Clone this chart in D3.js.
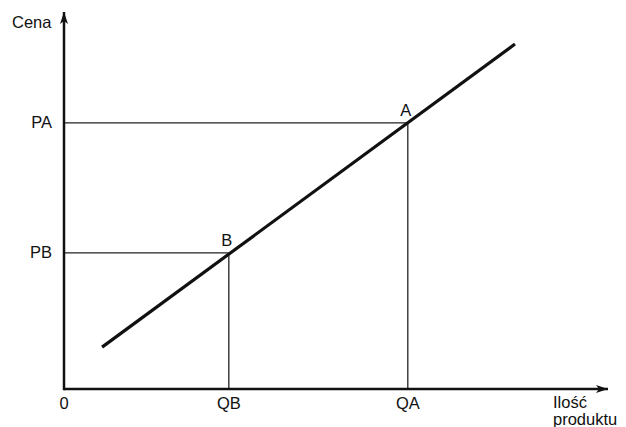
<!DOCTYPE html>
<html><head><meta charset="utf-8">
<script src="https://cdn.jsdelivr.net/npm/d3@7"></script>
<style>body{margin:0;background:#fff}svg text{font-family:"Liberation Sans",Arial,sans-serif;font-size:16.5px;fill:#111}</style>
</head><body>
<svg id="c" width="626" height="427"></svg>
<script>
// data (abstract units)
const xTicks = [{label:"0", v:0},{label:"QB", v:3.03},{label:"QA", v:6.32}];
const yTicks = [{label:"PB", v:3.61},{label:"PA", v:7.06}];
const supply = [{q:0.70, p:1.11},{q:8.29, p:9.15}];
const points = [{name:"A", q:6.32, p:7.06},{name:"B", q:3.03, p:3.61}];
const axisLabels = {x:["Ilość","produktu"], y:"Cena"};

const svg = d3.select("#c");
const x = d3.scaleLinear().domain([0,10]).range([64,608]);
const y = d3.scaleLinear().domain([0,10]).range([389,12]);

svg.append("defs").append("marker").attr("id","arr").attr("viewBox","0 0 12 8")
  .attr("refX",12).attr("refY",4).attr("markerWidth",13).attr("markerHeight",8)
  .attr("markerUnits","userSpaceOnUse").attr("orient","auto")
  .append("path").attr("d","M0,0 L12,4 L0,8 L3,4 Z").attr("fill","#111");

// guide lines
points.forEach(d=>{
  svg.append("line").attr("x1",x(0)).attr("x2",x(d.q)).attr("y1",y(d.p)).attr("y2",y(d.p))
    .attr("stroke","#222").attr("stroke-width",1.3);
  svg.append("line").attr("x1",x(d.q)).attr("x2",x(d.q)).attr("y1",y(0)).attr("y2",y(d.p))
    .attr("stroke","#222").attr("stroke-width",1.3);
});

// axes
svg.append("line").attr("x1",x(0)).attr("x2",x(10)).attr("y1",y(0)).attr("y2",y(0))
  .attr("stroke","#111").attr("stroke-width",2.5).attr("marker-end","url(#arr)");
svg.append("line").attr("x1",x(0)).attr("x2",x(0)).attr("y1",y(0)+1.2).attr("y2",y(10))
  .attr("stroke","#111").attr("stroke-width",2.5).attr("marker-end","url(#arr)");

// supply line
svg.append("path").datum(supply)
  .attr("d", d3.line().x(d=>x(d.q)).y(d=>y(d.p)))
  .attr("stroke","#111").attr("stroke-width",3.2).attr("fill","none");

// tick labels
svg.selectAll(".xt").data(xTicks).join("text").attr("x",d=>x(d.v)).attr("y",y(0)+20)
  .attr("text-anchor","middle").text(d=>d.label);
svg.selectAll(".yt").data(yTicks).join("text").attr("x",x(0)-12).attr("y",d=>y(d.v)+5)
  .attr("text-anchor","end").text(d=>d.label);

// point labels
svg.selectAll(".pl").data(points).join("text").attr("x",d=>x(d.q)-2).attr("y",d=>y(d.p)-7)
  .attr("text-anchor","middle").text(d=>d.name);

// axis labels
svg.append("text").attr("x",12).attr("y",28).text(axisLabels.y);
svg.selectAll(".xl").data(axisLabels.x).join("text")
  .attr("x",553).attr("y",(d,i)=>408+i*17).text(d=>d);
</script>
</body></html>
